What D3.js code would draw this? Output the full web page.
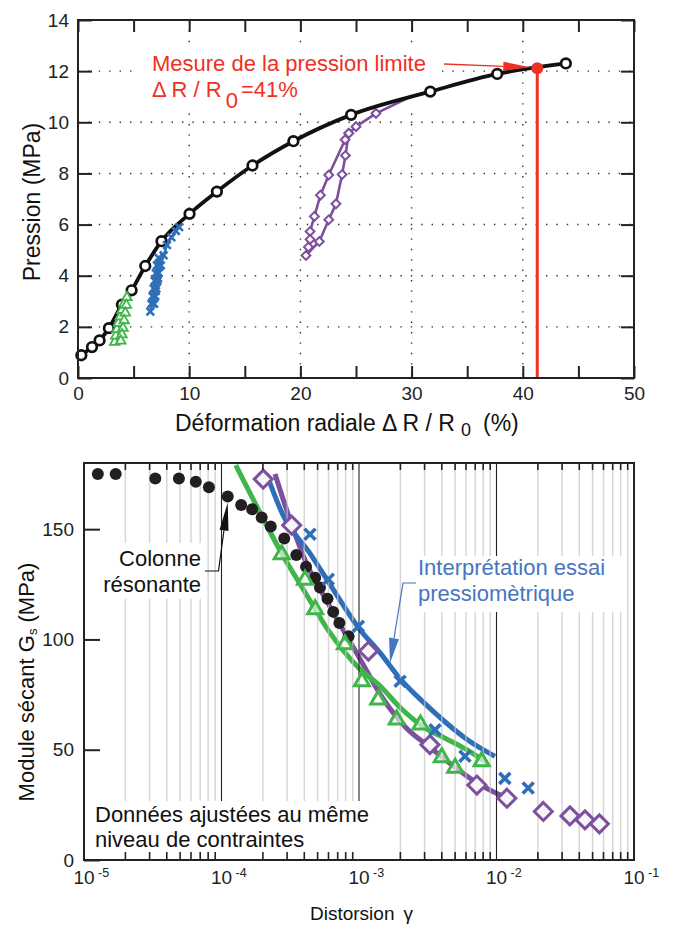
<!DOCTYPE html>
<html>
<head>
<meta charset="utf-8">
<script src="https://cdn.jsdelivr.net/npm/d3@7"></script>
<style>
body { margin: 0; background: #fff; }
text { font-family: "Liberation Sans", Arial, sans-serif; }
</style>
</head>
<body>
<svg id="chart"></svg>
<script>
// ### Data : essai pressiométrique (haut) ###
var pmStrain = [0.3, 1.26, 1.94, 2.78, 3.95, 4.82, 6.05, 7.51, 10.03, 12.49, 15.69, 19.37, 24.56, 31.68, 37.7, 43.87]
var pmPress  = [0.89, 1.21, 1.47, 1.95, 2.87, 3.43, 4.38, 5.35, 6.42, 7.29, 8.31, 9.26, 10.29, 11.2, 11.89, 12.3]

var greenStrain = [3.3, 3.4, 3.5, 3.65, 3.8, 3.95, 4.15, 4.4, 4.35, 4.25, 4.15, 4.05, 3.95, 3.85]
var greenPress  = [1.4, 1.65, 1.9, 2.15, 2.4, 2.65, 2.9, 3.15, 2.85, 2.55, 2.25, 1.95, 1.7, 1.45]

var blueStrain = [6.5, 6.6, 6.7, 6.8, 6.9, 7.0, 7.1, 7.25, 7.35, 7.25, 7.15, 7.05, 6.95, 6.85, 7.0, 7.2, 7.45, 7.7, 8.0, 8.4, 8.8, 9.1]
var bluePress  = [2.6, 2.9, 3.2, 3.5, 3.8, 4.1, 4.4, 4.7, 4.4, 4.1, 3.8, 3.5, 3.2, 2.9, 3.4, 3.9, 4.4, 4.8, 5.2, 5.5, 5.75, 5.9]

var purpleStrain = [24.35, 24.02, 22.55, 21.8, 21.26, 20.87, 20.87, 20.72, 20.5, 21.7, 22.55, 23.2, 23.75, 24.05, 24.35, 25.0, 26.8, 29.9]
var purplePress  = [9.57, 9.32, 7.94, 7.15, 6.32, 5.73, 5.42, 5.12, 4.79, 5.34, 6.19, 6.81, 7.96, 8.7, 9.57, 9.83, 10.35, 11.0]

var limitStrain = 41.3
var limitPress = 12.11

var xTicksTop = [0, 5, 10, 15, 20, 25, 30, 35, 40, 45, 50]
var yTicksTop = [0, 2, 4, 6, 8, 10, 12, 14]
var xGridTop = [10, 20, 30, 40]
var yGridTop = [2, 4, 6, 8, 10, 12]

// ### Data : module sécant (bas) ###
var rcGamma = [1.26e-5, 1.7e-5, 3.3e-5, 4.9e-5, 6.5e-5, 8.1e-5, 1.11e-4, 1.39e-4, 1.67e-4, 1.96e-4, 2.28e-4, 2.86e-4, 3.5e-4, 4.12e-4, 4.8e-4, 5.2e-4, 5.9e-4, 6.5e-4, 7.2e-4, 8.4e-4]
var rcG     = [175, 175, 173, 173, 171.5, 169, 164.8, 161, 159, 155.3, 151.2, 145.8, 138.3, 133, 128, 123.5, 118.5, 112.5, 107.5, 101.5]

var diaGamma = [2.01e-4, 3.24e-4, 1.17e-3, 3.28e-3, 7.2e-3, 1.19e-2, 2.19e-2, 3.42e-2, 4.4e-2, 5.6e-2]
var diaG     = [172.7, 151.8, 94.7, 52.3, 34, 28, 22, 20, 18.2, 16.4]
var diaFitGamma = [2.45e-4, 3.24e-4, 4.05e-4, 6e-4, 1.02e-3, 1.5e-3, 2.2e-3, 3.3e-3, 5e-3, 7.2e-3, 1.15e-2]
var diaFitG     = [175, 152, 136, 116, 91, 73, 60, 51, 42, 35, 28.5]

var triGamma = [2.74e-4, 4.05e-4, 4.8e-4, 7.9e-4, 1.05e-3, 1.38e-3, 1.88e-3, 2.8e-3, 4.0e-3, 5.0e-3, 7.8e-3]
var triG     = [138.6, 127, 113.6, 97.7, 81, 72.7, 63.6, 61.4, 46.5, 41.7, 44.7]
var triFitGamma = [1.27e-4, 2e-4, 2.74e-4, 4e-4, 6e-4, 1e-3, 1.42e-3, 2e-3, 3e-3, 4.3e-3, 6.07e-3, 8.5e-3]
var triFitG     = [179, 155, 139, 122, 104, 87, 79, 69, 60, 55, 50, 44]

var crossGamma = [4.4e-4, 5.98e-4, 9.9e-4, 1.99e-3, 3.57e-3, 5.9e-3, 1.15e-2, 1.7e-2]
var crossG     = [147.7, 127.3, 106, 81, 59, 47, 37, 32.6]
var crossFitGamma = [2.13e-4, 2.82e-4, 4.4e-4, 6.15e-4, 1e-3, 1.42e-3, 2e-3, 3e-3, 4.34e-3, 6e-3, 9.75e-3]
var crossFitG     = [175, 156, 139, 125, 105, 94, 82, 71, 62, 55, 47]

var yTicksBot = [0, 50, 100, 150]
var decades = [-5, -4, -3, -2, -1]

// ### Couleurs ###
var cGreen = '#3fb54a', cBlue = '#2f6fb9', cPurple = '#7d4f9f', cRed = '#ee3124', cBlueText = '#4775c0'

// ### Setting up canvas ###
var svg = d3.select('#chart')
			.attr('width', 675)
			.attr('height', 925)

// marker paths
function crossPath(s) { return `M${-s},${-s}L${s},${s}M${-s},${s}L${s},${-s}` }
function diamondPath(s) { return `M0,${-s}L${s},0L0,${s}L${-s},0Z` }
function triPath(s) {
	var h = s * Math.sqrt(3)
	return `M0,${-h * 2 / 3}L${s},${h / 3}L${-s},${h / 3}Z`
}
function arrow(g, pts, len, half, color, width) {
	// polyline ending in a filled head, last point = tip
	var n = pts.length, tip = pts[n - 1], prev = pts[n - 2]
	var dx = tip[0] - prev[0], dy = tip[1] - prev[1], L = Math.hypot(dx, dy)
	var ux = dx / L, uy = dy / L
	var base = [tip[0] - ux * len, tip[1] - uy * len]
	var line = pts.slice(0, n - 1).concat([base])
	g.append('path').attr('d', d3.line()(line)).attr('fill', 'none')
		.attr('stroke', color).attr('stroke-width', width)
	g.append('path')
		.attr('d', d3.line()([tip, [base[0] - uy * half, base[1] + ux * half], [base[0] + uy * half, base[1] - ux * half]]) + 'Z')
		.attr('fill', color)
}

// =====================================================
// ### TOP CHART ###
// =====================================================
var xT = d3.scaleLinear().domain([0, 50]).range([78, 634])
var yT = d3.scaleLinear().domain([0, 14]).range([378, 20])
var gTop = svg.append('g')

// dotted grid
gTop.append('g').selectAll('line').data(xGridTop).join('line')
	.attr('x1', xT).attr('x2', xT).attr('y1', yT(14)).attr('y2', yT(0))
	.attr('stroke', '#333').attr('stroke-width', 1.4).attr('stroke-dasharray', '1.4,9')
gTop.append('g').selectAll('line').data(yGridTop).join('line')
	.attr('x1', xT(0)).attr('x2', xT(50)).attr('y1', yT).attr('y2', yT)
	.attr('stroke', '#333').attr('stroke-width', 1.4).attr('stroke-dasharray', '1.4,9')

// label box
gTop.append('rect').attr('x', 140).attr('y', 47).attr('width', 302).attr('height', 66).attr('fill', '#fff')

var lineT = d3.line().x(d => xT(d[0])).y(d => yT(d[1]))

// purple
var purple = d3.zip(purpleStrain, purplePress)
gTop.append('path').attr('d', lineT(purple)).attr('fill', 'none')
	.attr('stroke', cPurple).attr('stroke-width', 2.6).attr('stroke-linejoin', 'round')
gTop.append('g').selectAll('path').data(purple.slice(0, -1)).join('path')
	.attr('d', diamondPath(4.4))
	.attr('transform', d => `translate(${xT(d[0])},${yT(d[1])})`)
	.attr('fill', '#fff').attr('stroke', cPurple).attr('stroke-width', 2)

// black pressuremeter curve
var pm = d3.zip(pmStrain, pmPress)
gTop.append('path').attr('d', lineT.curve(d3.curveMonotoneX)(pm)).attr('fill', 'none')
	.attr('stroke', '#111').attr('stroke-width', 3.8)
lineT.curve(d3.curveLinear)
gTop.append('g').selectAll('circle').data(pm).join('circle')
	.attr('cx', d => xT(d[0])).attr('cy', d => yT(d[1])).attr('r', 4.8)
	.attr('fill', '#fff').attr('stroke', '#111').attr('stroke-width', 2.7)

// green
var green = d3.zip(greenStrain, greenPress)
gTop.append('path').attr('d', lineT(green)).attr('fill', 'none')
	.attr('stroke', cGreen).attr('stroke-width', 2)
gTop.append('g').selectAll('path').data(green).join('path')
	.attr('d', triPath(4.8))
	.attr('transform', d => `translate(${xT(d[0])},${yT(d[1])})`)
	.attr('fill', '#fff').attr('stroke', cGreen).attr('stroke-width', 1.8)

// blue
var blue = d3.zip(blueStrain, bluePress)
gTop.append('path').attr('d', lineT(blue)).attr('fill', 'none')
	.attr('stroke', cBlue).attr('stroke-width', 2.4)
gTop.append('g').selectAll('path').data(blue).join('path')
	.attr('d', crossPath(3.8))
	.attr('transform', d => `translate(${xT(d[0])},${yT(d[1])})`)
	.attr('fill', 'none').attr('stroke', cBlue).attr('stroke-width', 2.6)

// limit pressure
gTop.append('line')
	.attr('x1', xT(limitStrain)).attr('x2', xT(limitStrain))
	.attr('y1', yT(limitPress)).attr('y2', yT(0))
	.attr('stroke', cRed).attr('stroke-width', 3)
gTop.append('circle').attr('cx', xT(limitStrain)).attr('cy', yT(limitPress)).attr('r', 6).attr('fill', cRed)
arrow(gTop, [[444, 64], [xT(limitStrain) - 7, yT(limitPress) - 1]], 27, 4.6, cRed, 1.3)

// frame + ticks
gTop.append('rect').attr('x', xT(0)).attr('y', yT(14)).attr('width', xT(50) - xT(0)).attr('height', yT(0) - yT(14))
	.attr('fill', 'none').attr('stroke', '#222').attr('stroke-width', 2)

var axB = gTop.append('g').attr('transform', `translate(0,${yT(0)})`)
	.call(d3.axisBottom(xT).tickValues(xTicksTop).tickSize(-12).tickPadding(9).tickFormat(d => d % 10 === 0 ? d : ''))
var axT = gTop.append('g').attr('transform', `translate(0,${yT(14)})`)
	.call(d3.axisTop(xT).tickValues(xTicksTop).tickSize(-12).tickFormat(''))
var axL = gTop.append('g').attr('transform', `translate(${xT(0)},0)`)
	.call(d3.axisLeft(yT).tickValues(yTicksTop).tickSize(-14).tickPadding(9))
var axR = gTop.append('g').attr('transform', `translate(${xT(50)},0)`)
	.call(d3.axisRight(yT).tickValues(yTicksTop).tickSize(-13).tickFormat(''))
;[axB, axT, axL, axR].forEach(function(a) {
	a.select('.domain').remove()
	a.selectAll('line').attr('stroke', '#222').attr('stroke-width', 2)
	a.selectAll('text').attr('font-size', 19).attr('fill', '#222').style('font-family', '"Liberation Sans", Arial, sans-serif')
})

// annotation
gTop.append('text').attr('x', 152).attr('y', 71).attr('font-size', 22).attr('fill', cRed)
	.text('Mesure de la pression limite')
var t2 = gTop.append('text').attr('x', 152).attr('y', 97).attr('font-size', 22).attr('fill', cRed)
t2.append('tspan').text('Δ R / R')
t2.append('tspan').attr('dx', 4).attr('dy', 11).text('0')
t2.append('tspan').attr('dx', 3).attr('dy', -11).text('=41%')

// axis titles
var xtTop = gTop.append('text').attr('x', 175).attr('y', 431).attr('font-size', 23).attr('fill', '#111')
xtTop.append('tspan').text('Déformation radiale Δ R / R')
xtTop.append('tspan').attr('dx', 6).attr('dy', 5).attr('font-size', 18).text('0')
xtTop.append('tspan').attr('dx', 12).attr('dy', -5).text('(%)')
gTop.append('text').attr('transform', 'translate(40,202) rotate(-90)').attr('text-anchor', 'middle')
	.attr('font-size', 23).attr('fill', '#111').text('Pression (MPa)')

// =====================================================
// ### BOTTOM CHART ###
// =====================================================
var xB = d3.scaleLog().domain([1e-5, 1e-1]).range([84, 634])
var yB = d3.scaleLinear().domain([0, 180]).range([860, 463])
var gBot = svg.append('g')
var lineB = d3.line().x(d => xB(d[0])).y(d => yB(d[1])).curve(d3.curveMonotoneX)

var minors = []
decades.slice(0, 4).forEach(function(k) {
	for (var m = 2; m <= 9; m++) minors.push(m * Math.pow(10, k))
})
var majors = [1e-4, 1e-3, 1e-2]

// fitted curves
var diaFit = d3.zip(diaFitGamma, diaFitG)
var triFit = d3.zip(triFitGamma, triFitG)
var crossFit = d3.zip(crossFitGamma, crossFitG)
gBot.append('path').attr('d', lineB(diaFit)).attr('fill', 'none').attr('stroke', cPurple).attr('stroke-width', 5)
gBot.append('path').attr('d', lineB(triFit)).attr('fill', 'none').attr('stroke', cGreen).attr('stroke-width', 5)
gBot.append('path').attr('d', lineB(crossFit)).attr('fill', 'none').attr('stroke', cBlue).attr('stroke-width', 5)

// grid over curves
gBot.append('g').selectAll('line').data(minors).join('line')
	.attr('x1', xB).attr('x2', xB).attr('y1', yB(180)).attr('y2', yB(0))
	.attr('stroke', '#c4c4c4').attr('stroke-opacity', 0.7).attr('stroke-width', 1.5)
gBot.append('g').selectAll('line').data(majors).join('line')
	.attr('x1', xB).attr('x2', xB).attr('y1', yB(180)).attr('y2', yB(0))
	.attr('stroke', '#222').attr('stroke-width', 1.1)

// label boxes
gBot.append('rect').attr('x', 100).attr('y', 543).attr('width', 106).attr('height', 56).attr('fill', '#fff')
gBot.append('rect').attr('x', 414).attr('y', 556).attr('width', 208).attr('height', 56).attr('fill', '#fff')
gBot.append('rect').attr('x', 85).attr('y', 801).attr('width', 291).attr('height', 58).attr('fill', '#fff')

// markers
gBot.append('g').selectAll('circle').data(d3.zip(rcGamma, rcG)).join('circle')
	.attr('cx', d => xB(d[0])).attr('cy', d => yB(d[1])).attr('r', 6).attr('fill', '#231f20')
gBot.append('g').selectAll('path').data(d3.zip(diaGamma, diaG)).join('path')
	.attr('d', diamondPath(9))
	.attr('transform', d => `translate(${xB(d[0])},${yB(d[1])})`)
	.attr('fill', '#f7f7f7').attr('stroke', cPurple).attr('stroke-width', 3)
gBot.append('g').selectAll('path').data(d3.zip(triGamma, triG)).join('path')
	.attr('d', triPath(7.5))
	.attr('transform', d => `translate(${xB(d[0])},${yB(d[1])})`)
	.attr('fill', '#fff').attr('fill-opacity', 0.6).attr('stroke', cGreen).attr('stroke-width', 3)
gBot.append('g').selectAll('path').data(d3.zip(crossGamma, crossG)).join('path')
	.attr('d', crossPath(5.5))
	.attr('transform', d => `translate(${xB(d[0])},${yB(d[1])})`)
	.attr('fill', 'none').attr('stroke', cBlue).attr('stroke-width', 3.6)

// frame + ticks
gBot.append('rect').attr('x', xB(1e-5)).attr('y', yB(180)).attr('width', xB(1e-1) - xB(1e-5)).attr('height', yB(0) - yB(180))
	.attr('fill', 'none').attr('stroke', '#222').attr('stroke-width', 2)
gBot.append('g').selectAll('line').data(minors).join('line')
	.attr('x1', xB).attr('x2', xB).attr('y1', yB(0)).attr('y2', yB(0) - 8)
	.attr('stroke', '#222').attr('stroke-width', 1.6)
gBot.append('g').selectAll('line').data(minors).join('line')
	.attr('x1', xB).attr('x2', xB).attr('y1', yB(180)).attr('y2', yB(180) + 7)
	.attr('stroke', '#222').attr('stroke-width', 1.6)
var axLB = gBot.append('g').attr('transform', `translate(${xB(1e-5)},0)`)
	.call(d3.axisLeft(yB).tickValues(yTicksBot).tickSize(-16).tickPadding(10))
axLB.select('.domain').remove()
axLB.selectAll('line').attr('stroke', '#222').attr('stroke-width', 2)
axLB.selectAll('text').attr('font-size', 19).attr('fill', '#222').style('font-family', '"Liberation Sans", Arial, sans-serif')

// log labels 10^k
var xl = gBot.append('g').selectAll('g').data(decades).join('g')
	.attr('transform', d => `translate(${xB(Math.pow(10, d))},0)`)
xl.append('text').attr('x', 0).attr('y', 884).attr('text-anchor', 'middle')
	.attr('font-size', 19).attr('fill', '#222').text('10')
xl.append('text').attr('x', 14).attr('y', 877)
	.attr('font-size', 12.5).attr('fill', '#222').text(d => d)

// annotations
var ca = gBot.append('text').attr('text-anchor', 'end').attr('font-size', 22).attr('fill', '#111')
ca.append('tspan').attr('x', 201).attr('y', 566).text('Colonne')
ca.append('tspan').attr('x', 201).attr('y', 592).text('résonante')
arrow(gBot, [[205, 571], [218.5, 571], [xB(rcGamma[6]), yB(rcG[6]) + 6]], 28, 4.5, '#111', 1.2)

var ia = gBot.append('text').attr('font-size', 22).attr('fill', cBlueText)
ia.append('tspan').attr('x', 418).attr('y', 575).text('Interprétation essai')
ia.append('tspan').attr('x', 418).attr('y', 601).text('pressiomètrique')
arrow(gBot, [[416, 583], [403, 583], [390, 663]], 25, 5, cBlueText, 1.2)

var da = gBot.append('text').attr('font-size', 22).attr('fill', '#111')
da.append('tspan').attr('x', 95).attr('y', 822).text('Données ajustées au même')
da.append('tspan').attr('x', 95).attr('y', 847).text('niveau de contraintes')

// axis titles
var xbt = gBot.append('text').attr('x', 310).attr('y', 920).attr('font-size', 19).attr('fill', '#111')
xbt.append('tspan').text('Distorsion')
xbt.append('tspan').attr('dx', 9).text('γ')
var yb = gBot.append('text').attr('transform', 'translate(34,682) rotate(-90)').attr('text-anchor', 'middle')
	.attr('font-size', 22).attr('fill', '#111')
yb.append('tspan').text('Module sécant G')
yb.append('tspan').attr('font-size', 13).attr('dy', 3).text('s')
yb.append('tspan').attr('dy', -3).text(' (MPa)')
</script>
</body>
</html>
